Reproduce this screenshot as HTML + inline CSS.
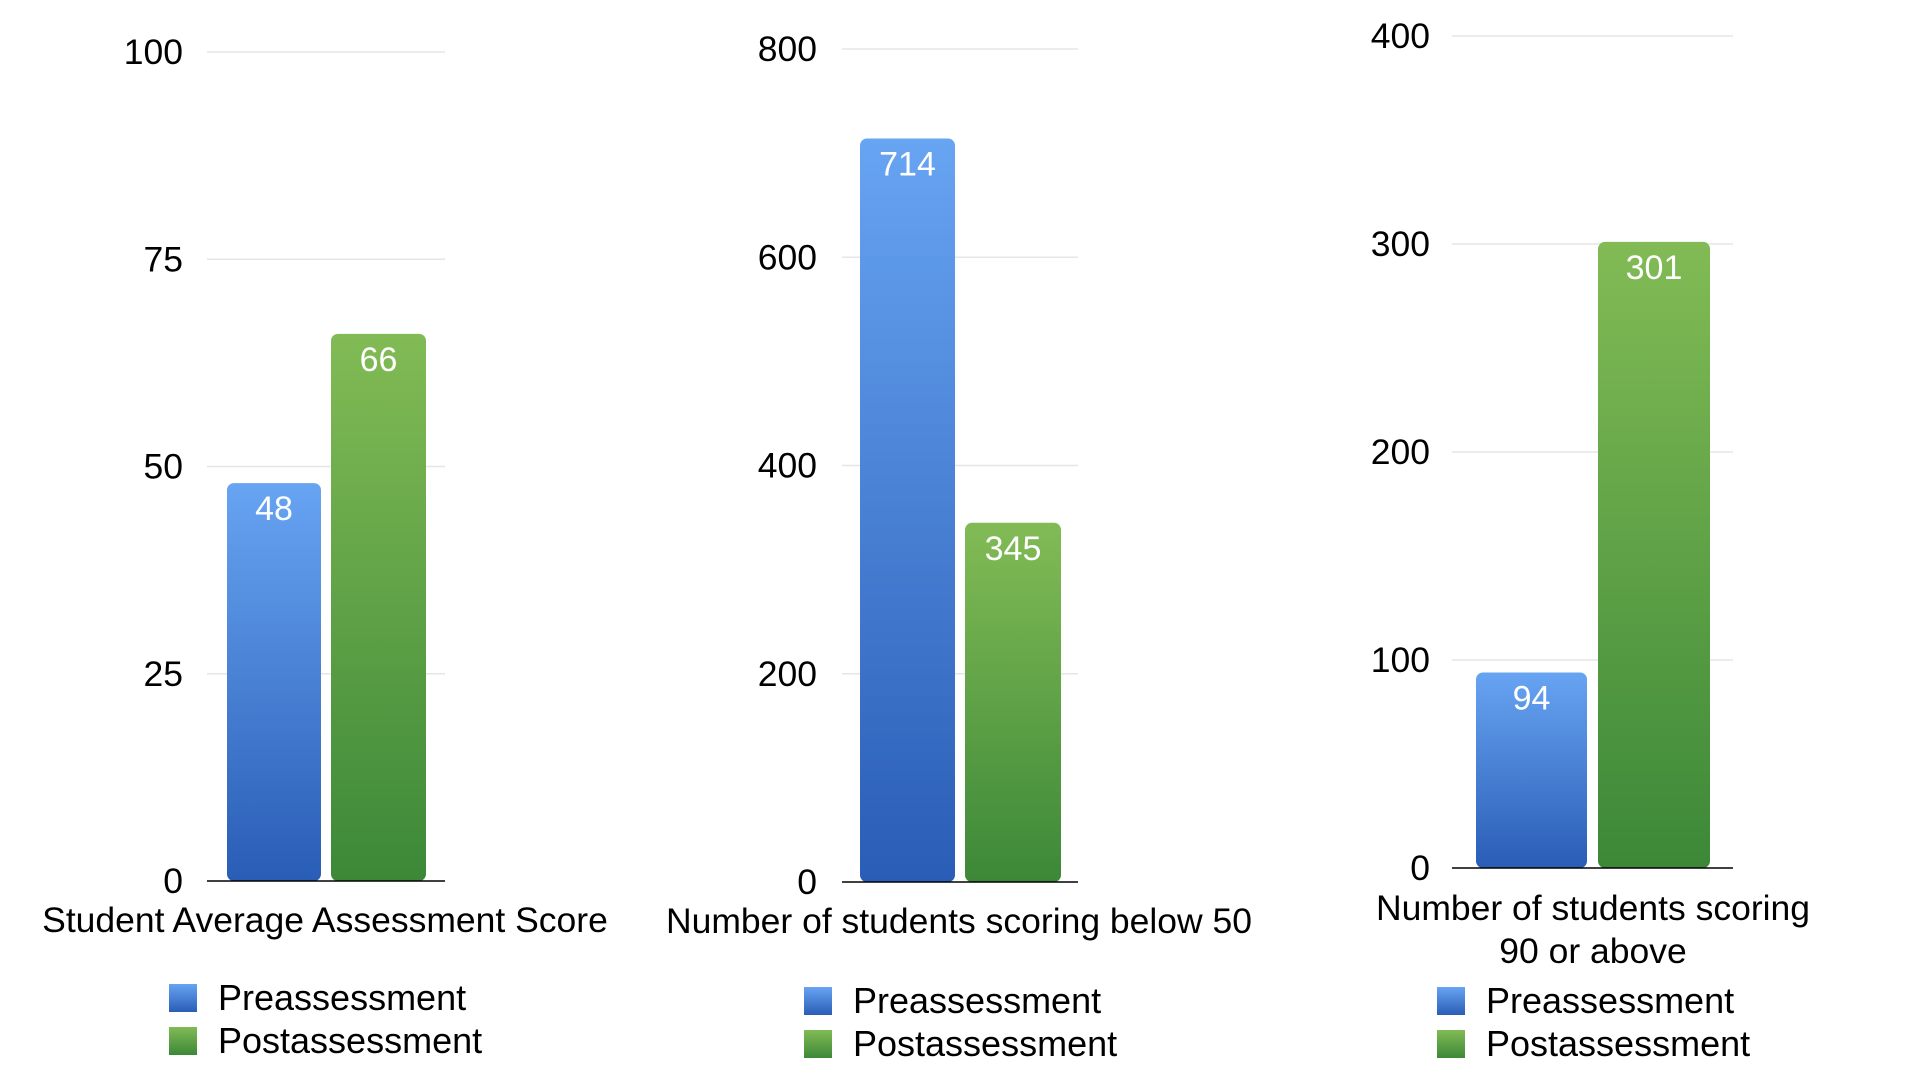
<!DOCTYPE html>
<html><head><meta charset="utf-8"><style>
html,body{margin:0;padding:0;background:#fff;width:1920px;height:1080px;overflow:hidden}
svg{display:block;font-family:"Liberation Sans",Arial,sans-serif}
</style></head><body>
<svg id="chart" width="1920" height="1080">
<defs>
<linearGradient id="gBlue" x1="0" y1="0" x2="0" y2="1"><stop offset="0" stop-color="#67a4f2"/><stop offset="1" stop-color="#2a5db6"/></linearGradient>
<linearGradient id="gGreen" x1="0" y1="0" x2="0" y2="1"><stop offset="0" stop-color="#82bb55"/><stop offset="1" stop-color="#3c8838"/></linearGradient>
</defs>
</svg>
<script>
const seriesNames = ["Preassessment", "Postassessment"];
const chartTitles = [["Student Average Assessment Score"], ["Number of students scoring below 50"], ["Number of students scoring", "90 or above"]];
const preValues = [48, 714, 94];
const postValues = [66, 345, 301];
const axisMax = [100, 800, 400];
const tickLabels = [[0, 25, 50, 75, 100], [0, 200, 400, 600, 800], [0, 100, 200, 300, 400]];

const layouts = [
  {gx0:207, gx1:445, yTop:52, yBot:881, lblX:183, bars:[[227,321],[331,426]], tx:325, ty:[932], sq:169, lx:218, ly:[998,1041]},
  {gx0:842, gx1:1078, yTop:49, yBot:882, lblX:817, bars:[[860,955],[965,1061]], tx:959, ty:[933], sq:804, lx:853, ly:[1001,1044]},
  {gx0:1452, gx1:1733, yTop:36, yBot:868, lblX:1430, bars:[[1476,1587],[1598,1710]], tx:1593, ty:[920,963], sq:1437, lx:1486, ly:[1001,1044]}
];
const svg = document.getElementById('chart');
const NS = 'http://www.w3.org/2000/svg';
function mk(tag, attrs, parent){const e=document.createElementNS(NS,tag);for(const k in attrs)e.setAttribute(k,attrs[k]);(parent||svg).appendChild(e);return e;}
const fills = ['url(#gBlue)','url(#gGreen)'];

layouts.forEach((L, i) => {
  const g = mk('g', {});
  
  
  const y = v => L.yBot - (v / axisMax[i]) * (L.yBot - L.yTop);
  tickLabels[i].forEach(t => {
    const yy = y(t);
    if (t !== 0) {
      const ln = mk('line', {x1:L.gx0, x2:L.gx1, y1:yy, y2:yy, stroke:'#e6e6e6', 'stroke-width':1.5}, g);
      
      
    }
    const tx = mk('text', {x:L.lblX, y:yy+12, 'text-anchor':'end', 'font-size':35.5, fill:'#000'}, g);
    tx.textContent = t;
    
    
  });
  const vals = [preValues[i], postValues[i]];
  vals.forEach((v, s) => {
    const [x0, x1] = L.bars[s];
    const top = y(v);
    const r = mk('rect', {x:x0, y:top, width:x1-x0, height:L.yBot-top, rx:7, ry:7, fill:fills[s]}, g);
    
    
    const vt = mk('text', {x:(x0+x1)/2, y:top+37, 'text-anchor':'middle', 'font-size':34, fill:'#fff'}, g);
    vt.textContent = v;
    
    
  });
  const ax = mk('line', {x1:L.gx0, x2:L.gx1, y1:L.yBot, y2:L.yBot, stroke:'#000', 'stroke-width':1.5}, g);
  
  
  chartTitles[i].forEach((line, k) => {
    const t = mk('text', {x:L.tx, y:L.ty[k], 'text-anchor':'middle', 'font-size':35.5, fill:'#000'}, g);
    t.textContent = line;
    
    
  });
  seriesNames.forEach((n, s) => {
    const sq = mk('rect', {x:L.sq, y:L.ly[s]-14, width:28, height:28, fill:fills[s]}, g);
    
    
    const t = mk('text', {x:L.lx, y:L.ly[s]+12, 'font-size':36, fill:'#000'}, g);
    t.textContent = n;
    
    
  });
});
</script>
</body></html>
